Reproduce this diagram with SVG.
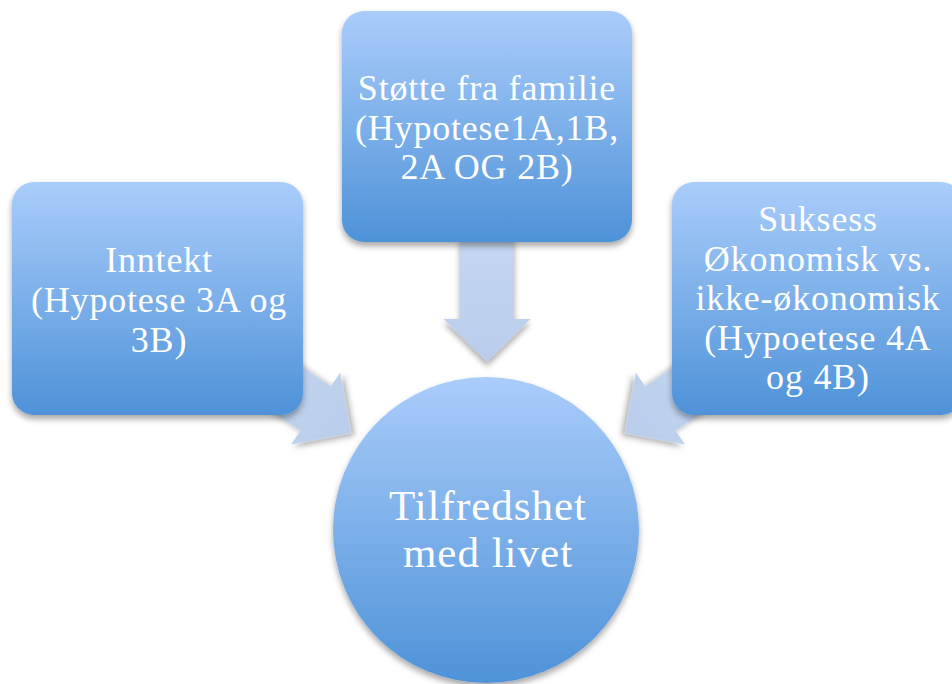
<svg xmlns="http://www.w3.org/2000/svg" width="952" height="684" viewBox="0 0 952 684">
  <defs>
    <linearGradient id="gBox" x1="0" y1="0" x2="0" y2="1">
      <stop offset="0" stop-color="#aacdfb"/>
      <stop offset="1" stop-color="#4e92d8"/>
    </linearGradient>
    <linearGradient id="gArrow" x1="0" y1="0" x2="0" y2="1">
      <stop offset="0" stop-color="#c4d6f0"/>
      <stop offset="1" stop-color="#b9cdeb"/>
    </linearGradient>
    <filter id="shadow" x="-20%" y="-20%" width="140%" height="150%">
      <feDropShadow dx="0" dy="4" stdDeviation="3" flood-color="#000" flood-opacity="0.35"/>
    </filter>
    <path id="arrow" d="M-27,-125 L27,-125 L27,-43 L43.5,-43 L0,0 L-43.5,-43 L-27,-43 Z"/>
  </defs>
  <style>
    .node { fill: url(#gBox); filter: url(#shadow); }
    .arr { fill: url(#gArrow); filter: url(#shadow); }
    .lbl { font-family: "Liberation Serif", "Times New Roman", serif; font-size: 36px; fill: #ffffff; text-anchor: middle; letter-spacing: 0.8px; }
    .big { font-size: 43px; letter-spacing: 1px; }
  </style>
  <rect width="952" height="684" fill="#ffffff"/>
  <g id="connectors">
    <use href="#arrow" class="arr" transform="translate(487,362)"/>
    <use href="#arrow" class="arr" transform="translate(351,433) rotate(-55.6)"/>
    <use href="#arrow" class="arr" transform="translate(625,433) rotate(55.6)"/>
  </g>
  <g id="node-familie">
    <rect class="node" x="342" y="11" width="290" height="231" rx="22"/>
    <text class="lbl" x="487" y="100">Støtte fra familie</text>
    <text class="lbl" x="487" y="139.5">(Hypotese1A,1B,</text>
    <text class="lbl" x="487" y="179">2A OG 2B)</text>
  </g>
  <g id="node-inntekt">
    <rect class="node" x="12" y="182" width="291" height="233" rx="22"/>
    <text class="lbl" x="159" y="272">Inntekt</text>
    <text class="lbl" x="159" y="312">(Hypotese 3A og</text>
    <text class="lbl" x="159" y="352">3B)</text>
  </g>
  <g id="node-suksess">
    <rect class="node" x="672" y="182" width="291" height="233" rx="22"/>
    <text class="lbl" x="818" y="231">Suksess</text>
    <text class="lbl" x="818" y="271">Økonomisk vs.</text>
    <text class="lbl" x="818" y="310">ikke-økonomisk</text>
    <text class="lbl" x="818" y="350">(Hypoetese 4A</text>
    <text class="lbl" x="818" y="389">og 4B)</text>
  </g>
  <g id="node-tilfredshet">
    <circle class="node" cx="486" cy="530" r="153"/>
    <text class="lbl big" x="488" y="520">Tilfredshet</text>
    <text class="lbl big" x="488" y="567">med livet</text>
  </g>
</svg>
